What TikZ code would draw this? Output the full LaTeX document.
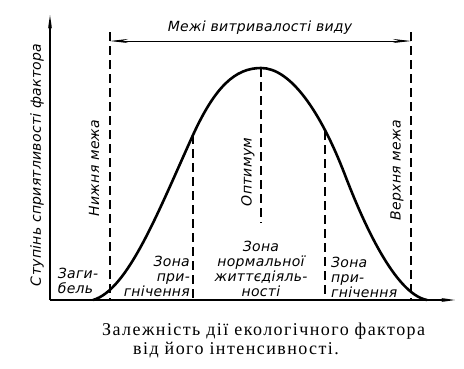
\documentclass[tikz,border=0pt]{standalone}
\usepackage{fontspec}
\setmainfont[LetterSpace=8]{Liberation Serif}
\newfontfamily\grot[LetterSpace=2]{DejaVu Sans}
\usetikzlibrary{arrows.meta}

\begin{document}
\begin{tikzpicture}[x=1pt,y=1pt,font=\grot\itshape\fontsize{14}{15}\selectfont,inner sep=1pt,
    limit/.style={line width=1.2pt,dash pattern=on 9pt off 5pt},
    axis/.style={line width=1.4pt,-{Stealth[length=14pt,width=4pt]}}]
    \useasboundingbox (-50,-68) rectangle (414,300);
    % axes
    \coordinate (o) at (0,0);
    \coordinate (ytop) at (0,285);
    \coordinate (xend) at (405,0);
    \draw[axis] (o) -- (ytop);
    \draw[axis] (o) -- (xend);
    % limits of tolerance
    \coordinate (lowtop) at (60,268);
    \coordinate (lowbot) at (60,0);
    \coordinate (uptop) at (361,268);
    \coordinate (upbot) at (361,0);
    \draw[limit] (lowtop) -- (lowbot);
    \draw[limit] (uptop) -- (upbot);
    \draw[line width=0.8pt,{Stealth[length=18pt,width=4pt]}-{Stealth[length=18pt,width=4pt]}] (60,259) -- (361,259);
    % zones
    \coordinate (peak) at (211,232);
    \coordinate (optbot) at (211,77);
    \coordinate (supltop) at (143,165);
    \coordinate (suplbot) at (143,0);
    \coordinate (suprtop) at (275,169);
    \coordinate (suprbot) at (275,0);
    \draw[limit] (peak) -- (optbot);
    \draw[limit] (supltop) -- (suplbot);
    \draw[limit] (suprtop) -- (suprbot);
    % curve
    \draw[line width=2.6pt] (43,0) .. controls (78,10) and (108,88) .. (supltop)
        .. controls (165,213) and (185,232) .. (peak)
        .. controls (240,232) and (270,190) .. (295,125)
        .. controls (313,78) and (345,6) .. (377,0);
    % labels
    \node[rotate=90] (ylab) at (-13,135) {Ступінь сприятливості фактора};
    \node[rotate=90] (lowlim) at (44,132) {Нижня межа};
    \node[rotate=90] (opt) at (198,128) {Оптимум};
    \node[rotate=90] (uplim) at (347,130) {Верхня межа};
    \node (range) at (210,272) {Межі витривалості виду};
    \node[align=left] (death) at (28,19) {Заги-\\бель};
    \node[align=right,anchor=east] (supl) at (141,24) {Зона\\при-\\гнічення};
    \node[align=center] (norm) at (211,31) {Зона\\нормальної\\життєдіяль-\\ності};
    \node[align=left,anchor=west] (supr) at (280,23) {Зона\\при-\\гнічення};
    % caption
    \node[anchor=base west,font=\rmfamily\fontsize{18}{20}\selectfont] (cap1) at (51,-35) {Залежність дії екологічного фактора};
    \node[anchor=base west,font=\rmfamily\fontsize{18}{20}\selectfont] (cap2) at (82,-54) {від його інтенсивності.};
\end{tikzpicture}
\end{document}
